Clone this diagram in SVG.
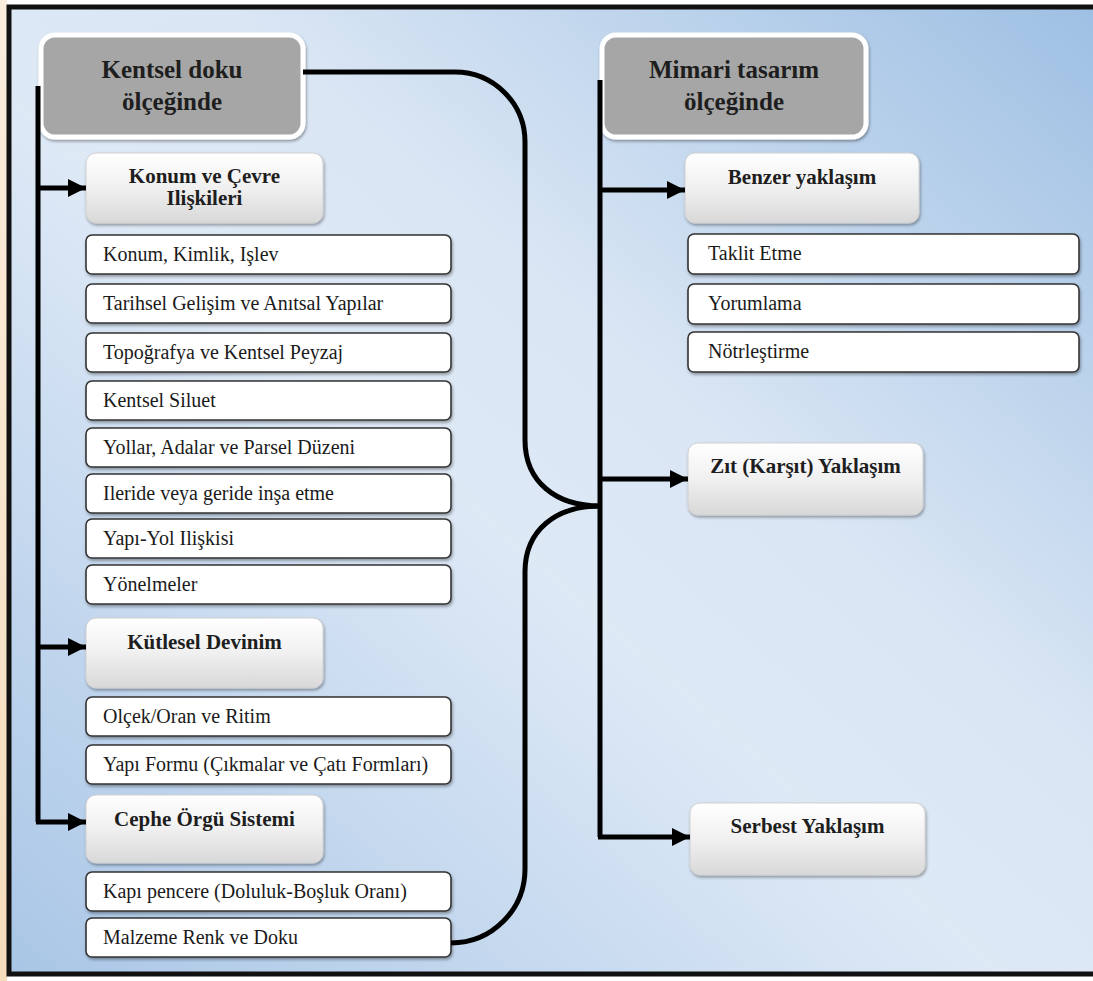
<svg xmlns="http://www.w3.org/2000/svg" width="1093" height="981" viewBox="0 0 1093 981">
<defs>
<linearGradient id="bg" x1="0" y1="1" x2="1" y2="0">
<stop offset="0" stop-color="#a9c6e6"/>
<stop offset="0.45" stop-color="#dee9f6"/>
<stop offset="0.6" stop-color="#dae6f4"/>
<stop offset="1" stop-color="#9dbfe3"/>
</linearGradient>
<linearGradient id="strip" x1="0" y1="0" x2="0" y2="1">
<stop offset="0" stop-color="#fbeedd"/>
<stop offset="1" stop-color="#f5dcbc"/>
</linearGradient>
<linearGradient id="sub" x1="0" y1="0" x2="0" y2="1">
<stop offset="0" stop-color="#ffffff"/>
<stop offset="0.5" stop-color="#f0f0f0"/>
<stop offset="1" stop-color="#d8d8d8"/>
</linearGradient>
<filter id="sh" x="-10%" y="-10%" width="120%" height="130%">
<feDropShadow dx="1" dy="2" stdDeviation="1.5" flood-color="#000" flood-opacity="0.35"/>
</filter>
<marker id="arr" markerUnits="userSpaceOnUse" markerWidth="20" markerHeight="20" refX="18" refY="9" orient="auto">
<path d="M0,0 L18,9 L0,18 Z" fill="#000"/>
</marker>
<style>
.hdr{fill:#a6a6a6;stroke:#fff;stroke-width:5;filter:url(#sh)}
.sub{fill:url(#sub);stroke:#d0d0d0;stroke-width:1;filter:url(#sh)}
.item{fill:#fff;stroke:#333;stroke-width:1.6;filter:url(#sh)}
text{font-family:'Liberation Serif','DejaVu Serif',serif}
.th{font-weight:bold;font-size:25px;fill:#1e1e1e;text-anchor:middle}
.ts{font-weight:bold;font-size:21px;fill:#1e1e1e;text-anchor:middle}
.ti{font-size:20px;fill:#1a1a1a}
.ln{fill:none;stroke:#000;stroke-width:5}
.ar{fill:none;stroke:#000;stroke-width:5;marker-end:url(#arr)}
</style>
</defs>
<rect x="0" y="0" width="1093" height="981" fill="#ffffff"/>
<rect x="0" y="0" width="7" height="981" fill="url(#strip)"/>
<rect x="9" y="7" width="1100" height="967" fill="url(#bg)" stroke="#111" stroke-width="5"/>

<g id="n-kentsel"><rect class="hdr" x="41" y="35" width="262" height="102" rx="14"/><text class="th" x="172" y="78">Kentsel doku</text><text class="th" x="172" y="110">ölçeğinde</text></g>
<g id="n-mimari"><rect class="hdr" x="602" y="35" width="264" height="102" rx="14"/><text class="th" x="734" y="78">Mimari tasarım</text><text class="th" x="734" y="110">ölçeğinde</text></g>

<g id="n-konum"><rect class="sub" x="86" y="153" width="237" height="70" rx="10"/><text class="ts" x="204.5" y="183">Konum ve Çevre</text><text class="ts" x="204.5" y="205">Ilişkileri</text></g>
<g id="n-kutlesel"><rect class="sub" x="86" y="618" width="237" height="70" rx="10"/><text class="ts" x="204.5" y="649">Kütlesel Devinim</text></g>
<g id="n-cephe"><rect class="sub" x="86" y="795" width="237" height="68" rx="10"/><text class="ts" x="204.5" y="826">Cephe Örgü Sistemi</text></g>
<g id="n-benzer"><rect class="sub" x="685" y="153" width="234" height="70" rx="10"/><text class="ts" x="802" y="184">Benzer yaklaşım</text></g>
<g id="n-zit"><rect class="sub" x="688" y="443" width="235" height="72" rx="10"/><text class="ts" x="805.5" y="473">Zıt (Karşıt) Yaklaşım</text></g>
<g id="n-serbest"><rect class="sub" x="690" y="803" width="235" height="72" rx="10"/><text class="ts" x="807.5" y="833">Serbest Yaklaşım</text></g>

<g id="n-i1"><rect class="item" x="86" y="235" width="365" height="39" rx="6"/><text class="ti" x="103" y="261">Konum, Kimlik, Işlev</text></g>
<g id="n-i2"><rect class="item" x="86" y="284" width="365" height="39" rx="6"/><text class="ti" x="103" y="310">Tarihsel Gelişim ve Anıtsal Yapılar</text></g>
<g id="n-i3"><rect class="item" x="86" y="333" width="365" height="39" rx="6"/><text class="ti" x="103" y="359">Topoğrafya ve Kentsel Peyzaj</text></g>
<g id="n-i4"><rect class="item" x="86" y="381" width="365" height="39" rx="6"/><text class="ti" x="103" y="407">Kentsel Siluet</text></g>
<g id="n-i5"><rect class="item" x="86" y="428" width="365" height="39" rx="6"/><text class="ti" x="103" y="454">Yollar, Adalar ve Parsel Düzeni</text></g>
<g id="n-i6"><rect class="item" x="86" y="474" width="365" height="39" rx="6"/><text class="ti" x="103" y="500">Ileride veya geride inşa etme</text></g>
<g id="n-i7"><rect class="item" x="86" y="519" width="365" height="39" rx="6"/><text class="ti" x="103" y="545">Yapı-Yol Ilişkisi</text></g>
<g id="n-i8"><rect class="item" x="86" y="565" width="365" height="39" rx="6"/><text class="ti" x="103" y="591">Yönelmeler</text></g>
<g id="n-i9"><rect class="item" x="86" y="697" width="365" height="39" rx="6"/><text class="ti" x="103" y="723">Olçek/Oran ve Ritim</text></g>
<g id="n-i10"><rect class="item" x="86" y="745" width="365" height="39" rx="6"/><text class="ti" x="103" y="771">Yapı Formu (Çıkmalar ve Çatı Formları)</text></g>
<g id="n-i11"><rect class="item" x="86" y="872" width="365" height="39" rx="6"/><text class="ti" x="103" y="898">Kapı pencere (Doluluk-Boşluk Oranı)</text></g>
<g id="n-i12"><rect class="item" x="86" y="918" width="365" height="39" rx="6"/><text class="ti" x="103" y="944">Malzeme Renk ve Doku</text></g>

<g id="n-r1"><rect class="item" x="688" y="234" width="391" height="40" rx="6"/><text class="ti" x="708" y="260">Taklit Etme</text></g>
<g id="n-r2"><rect class="item" x="688" y="284" width="391" height="40" rx="6"/><text class="ti" x="708" y="310">Yorumlama</text></g>
<g id="n-r3"><rect class="item" x="688" y="332" width="391" height="40" rx="6"/><text class="ti" x="708" y="358">Nötrleştirme</text></g>

<g id="connectors">
<path class="ln" d="M38 86 V822"/>
<path class="ar" d="M38 188 H86"/>
<path class="ar" d="M38 647 H86"/>
<path class="ar" d="M36 822 H86"/>
<path class="ln" d="M600 80 V837"/>
<path class="ar" d="M600 190 H685"/>
<path class="ar" d="M600 479 H688"/>
<path class="ar" d="M598 837 H690"/>
<path class="ln" d="M303 72 H455 A70 70 0 0 1 525 142 V440 C525 482 556 506 600 506"/>
<path class="ln" d="M600 506 C556 506 525 530 525 572 V869 A74 74 0 0 1 451 943"/>
</g>
</svg>
